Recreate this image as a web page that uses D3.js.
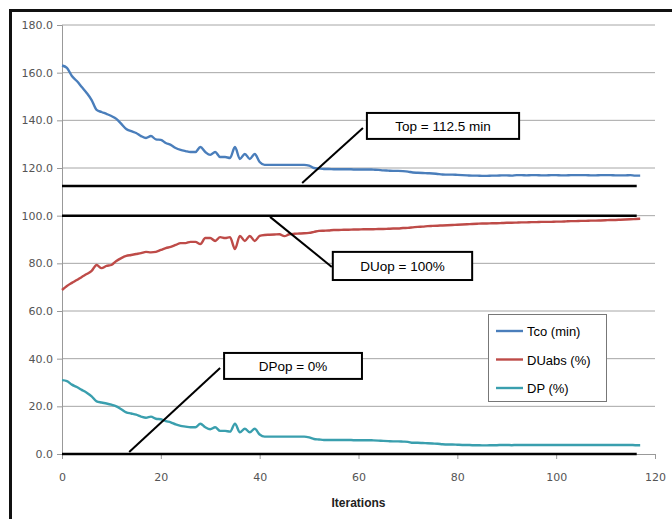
<!DOCTYPE html>
<html>
<head>
<meta charset="utf-8">
<script src="https://cdn.jsdelivr.net/npm/d3@7"></script>
<style>
  body { margin: 0; background: #fff; }
  svg { display: block; }
  .tick text { font-family: "DejaVu Sans", Verdana, sans-serif; font-size: 11px; fill: #555; }
</style>
</head>
<body>
<div id="chart"></div>
<script>
// series values, one per iteration (0..117)
var tco = [163.0,162.0,158.6,156.5,154.0,151.5,148.5,144.4,143.5,142.7,141.8,140.6,138.5,136.4,135.5,134.7,133.4,132.6,133.4,132.0,
  131.8,130.5,129.7,128.4,127.6,127.1,126.7,126.7,128.8,126.7,125.5,126.7,124.6,124.6,124.2,128.8,123.8,125.9,123.8,125.9,
  122.5,121.3,121.3,121.3,121.3,121.3,121.3,121.3,121.3,121.3,121.0,120.0,119.8,119.6,119.6,119.5,119.5,119.5,119.5,119.4,
  119.4,119.4,119.4,119.3,119.2,119.0,118.9,118.8,118.8,118.7,118.5,118.1,118.0,117.9,117.8,117.7,117.5,117.3,117.2,117.2,
  117.1,117.0,116.9,116.8,116.8,116.7,116.7,116.8,116.8,116.9,116.9,116.8,117.0,117.0,116.9,117.0,117.0,116.9,116.9,117.0,
  117.0,116.9,116.9,117.0,117.0,117.0,117.0,116.9,116.9,117.0,117.0,117.0,116.9,116.9,116.9,117.0,116.8,116.8];
var duabs = [68.8,70.5,71.8,73.0,74.3,75.5,76.8,79.3,78.0,78.9,79.3,81.0,82.2,83.1,83.5,83.9,84.3,84.8,84.6,84.8,
  85.6,86.4,86.9,87.7,88.5,88.5,89.0,89.0,88.1,90.6,90.6,89.4,91.0,90.6,91.0,86.0,91.5,89.4,91.5,89.4,
  91.5,91.9,92.0,92.1,92.2,91.4,92.2,92.4,92.5,92.6,92.8,93.2,93.6,93.7,93.8,94.0,94.0,94.1,94.1,94.2,
  94.2,94.3,94.3,94.3,94.4,94.4,94.5,94.6,94.6,94.8,94.9,95.1,95.3,95.4,95.6,95.7,95.8,95.9,96.0,96.1,
  96.2,96.3,96.4,96.5,96.6,96.7,96.7,96.8,96.8,96.9,97.0,97.0,97.1,97.2,97.2,97.3,97.3,97.4,97.4,97.4,
  97.5,97.5,97.6,97.7,97.7,97.8,97.8,97.9,97.9,98.0,98.1,98.2,98.2,98.3,98.4,98.5,98.6,98.7];
var dp = [31.0,30.6,29.1,28.1,26.9,25.7,24.2,22.1,21.6,21.2,20.7,20.0,18.8,17.5,17.0,16.5,15.7,15.2,15.7,14.8,
  14.6,13.8,13.3,12.4,11.8,11.5,11.2,11.2,12.7,11.2,10.4,11.2,9.7,9.7,9.4,12.7,9.1,10.6,9.1,10.6,
  8.2,7.3,7.3,7.3,7.3,7.3,7.3,7.3,7.3,7.3,7.0,6.3,6.1,5.9,5.9,5.9,5.9,5.9,5.9,5.8,
  5.8,5.8,5.8,5.7,5.6,5.5,5.4,5.3,5.3,5.2,5.1,4.7,4.7,4.6,4.5,4.4,4.3,4.1,4.0,4.0,
  3.9,3.8,3.8,3.7,3.7,3.6,3.6,3.7,3.7,3.8,3.8,3.7,3.8,3.8,3.8,3.8,3.8,3.8,3.8,3.8,
  3.8,3.8,3.8,3.8,3.8,3.8,3.8,3.8,3.8,3.8,3.8,3.8,3.8,3.8,3.8,3.8,3.7,3.7];

var seriesNames = ['Tco (min)', 'DUabs (%)', 'DP (%)'];
var seriesColors = ['#4a7ebb', '#be4b48', '#3a9fae'];

// reference levels and their callouts
var refLevels = [112.5, 100, 0];
var refEnd = 116.3;
var calloutText = ['Top = 112.5 min', 'DUop = 100%', 'DPop = 0%'];
// leader start [x,y], leader end [x,y], box [x0,y0,x1,y1] in data units
var calloutLeader = [[48.6, 113.7, 60.9, 136.8], [42.1, 99.5, 54.6, 78.5], [13.6, 0.8, 32.0, 36.1]];
var calloutBox = [[61.7, 143.1, 92.5, 132.2], [54.8, 84.8, 83.0, 73.0], [32.8, 42.4, 60.7, 31.5]];

var yTicks = d3.range(0, 181, 20);
var xTicks = d3.range(0, 121, 20);

var margin = { top: 25, right: 17, bottom: 65, left: 62 };
var W = 672, H = 519;
var width = W - margin.left - margin.right;
var height = H - margin.top - margin.bottom;

var svg = d3.select('#chart').append('svg')
    .attr('width', W)
    .attr('height', H);

// outer frame (right/bottom edges fall outside the picture)
svg.append('rect')
    .attr('x', 10.5).attr('y', 10.5)
    .attr('width', 720).attr('height', 600)
    .attr('fill', 'none')
    .attr('stroke', '#111')
    .attr('stroke-width', 3);

var g = svg.append('g').attr('transform', 'translate(' + margin.left + ',' + margin.top + ')');

var x = d3.scaleLinear().domain([0, 120]).range([0, width]);
var y = d3.scaleLinear().domain([0, 180]).range([height, 0]);

// gridlines
g.append('g')
    .selectAll('line')
    .data(yTicks.filter(function(d){ return d > 0; }))
    .enter().append('line')
    .attr('x1', 0).attr('x2', width)
    .attr('y1', function(d){ return y(d); })
    .attr('y2', function(d){ return y(d); })
    .attr('stroke', '#a6a6a6')
    .attr('stroke-width', 1);

// axes
var yAxis = g.append('g')
    .call(d3.axisLeft(y).tickValues(yTicks).tickFormat(d3.format('.1f')).tickSize(5).tickPadding(4));
var xAxis = g.append('g')
    .attr('transform', 'translate(0,' + height + ')')
    .call(d3.axisBottom(x).tickValues(xTicks).tickSize(5).tickPadding(14));
[yAxis, xAxis].forEach(function(a){
    a.select('.domain').attr('stroke', '#999');
    a.selectAll('.tick line').attr('stroke', '#999');
});

svg.append('text')
    .attr('x', margin.left + width / 2)
    .attr('y', 507)
    .attr('text-anchor', 'middle')
    .style('font-family', '"Liberation Sans", Arial, sans-serif')
    .style('font-size', '12px')
    .style('font-weight', 'bold')
    .style('fill', '#222')
    .text('Iterations');

// reference lines
g.append('g')
    .selectAll('line')
    .data(refLevels)
    .enter().append('line')
    .attr('x1', x(0)).attr('x2', x(refEnd))
    .attr('y1', function(d){ return y(d); })
    .attr('y2', function(d){ return y(d); })
    .attr('stroke', '#000')
    .attr('stroke-width', 2.5);

// series
var line = d3.line()
    .x(function(d, i){ return x(i); })
    .y(function(d){ return y(d); })
    .curve(d3.curveMonotoneX);

[tco, duabs, dp].forEach(function(s, k){
    g.append('path')
        .datum(s)
        .attr('fill', 'none')
        .attr('stroke', seriesColors[k])
        .attr('stroke-width', 2.4)
        .attr('stroke-linejoin', 'round')
        .attr('d', line);
});

// callouts
calloutText.forEach(function(t, k){
    var l = calloutLeader[k], b = calloutBox[k];
    g.append('line')
        .attr('x1', x(l[0])).attr('y1', y(l[1]))
        .attr('x2', x(l[2])).attr('y2', y(l[3]))
        .attr('stroke', '#000').attr('stroke-width', 2);
    g.append('rect')
        .attr('x', x(b[0])).attr('y', y(b[1]))
        .attr('width', x(b[2]) - x(b[0]))
        .attr('height', y(b[3]) - y(b[1]))
        .attr('fill', '#fff')
        .attr('stroke', '#000')
        .attr('stroke-width', 2);
    g.append('text')
        .attr('x', (x(b[0]) + x(b[2])) / 2)
        .attr('y', (y(b[1]) + y(b[3])) / 2 + 5)
        .attr('text-anchor', 'middle')
        .style('font-family', '"Liberation Sans", Arial, sans-serif')
        .style('font-size', '13.5px')
        .style('fill', '#000')
        .text(t);
});

// legend
var legend = svg.append('g').attr('transform', 'translate(488,314)');
legend.append('rect')
    .attr('x', 0.5).attr('y', 0.5)
    .attr('width', 118).attr('height', 87)
    .attr('fill', '#fff')
    .attr('stroke', '#777');
seriesNames.forEach(function(n, k){
    var ly = 17 + k * 28.5;
    legend.append('line')
        .attr('x1', 8).attr('x2', 35)
        .attr('y1', ly).attr('y2', ly)
        .attr('stroke', seriesColors[k])
        .attr('stroke-width', 2.4);
    legend.append('text')
        .attr('x', 39).attr('y', ly + 5)
        .style('font-family', '"Liberation Sans", Arial, sans-serif')
        .style('font-size', '13px')
        .style('fill', '#000')
        .text(n);
});
</script>
</body>
</html>
